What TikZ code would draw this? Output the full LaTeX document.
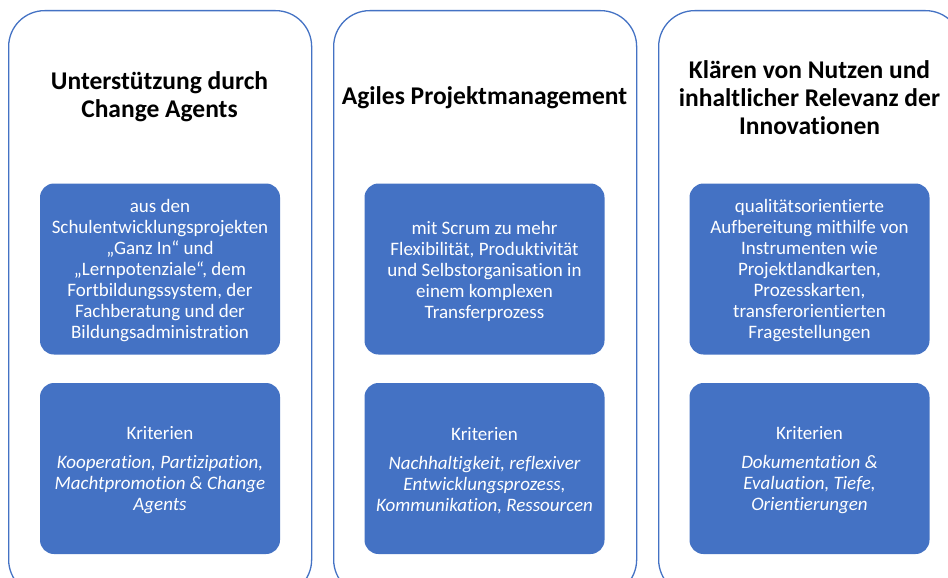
\documentclass[tikz,border=0pt]{standalone}
\usepackage{fontspec}
\setmainfont{Carlito}[Ligatures=NoCommon]
\definecolor{ablue}{HTML}{4472C4}
\begin{document}
\begin{tikzpicture}[x=1pt,y=-1pt,
  panel/.style={draw=ablue, line width=1.3pt, rounded corners=36pt, minimum width=303pt, minimum height=585pt, anchor=north west, inner sep=0pt},
  box/.style={fill=ablue, rounded corners=14pt, minimum width=240pt, minimum height=171pt, inner sep=0pt},
  boxtext/.style={align=center, text=white, inner sep=0pt, font=\fontsize{19}{21}\selectfont},
  ttl/.style={font=\fontsize{25.5}{28}\selectfont\bfseries, align=center, text=black}]
\useasboundingbox (0,0) rectangle (948,578);
\clip (0,0) rectangle (948,578);
\fill[white] (0,0) rectangle (948,578);
\node[panel] (p1) at (8,10) {};
\node[panel] (p2) at (333,10) {};
\node[panel] (p3) at (658,10) {};
\node[ttl] (t1) at (159.5,97) {Unterstützung durch\\Change Agents};
\node[ttl] (t2) at (484.5,97.5) {Agiles Projektmanagement};
\node[ttl] (t3) at (809.5,97.5) {Klären von Nutzen und\\inhaltlicher Relevanz der\\Innovationen};
\node[box] (a1) at (160,269) {};
\node[box] (a2) at (484.5,269) {};
\node[box] (a3) at (809.5,269) {};
\node[box] (k1) at (160,468.5) {};
\node[box] (k2) at (484.5,468.5) {};
\node[box] (k3) at (809.5,468.5) {};
\node[boxtext] (a1t) at ([yshift=-2pt]a1.center) {aus den\\Schulentwicklungsprojekten\\„Ganz In“ und\\„Lernpotenziale“, dem\\Fortbildungssystem, der\\Fachberatung und der\\Bildungsadministration};
\node[boxtext] (a2t) at ([yshift=-2pt]a2.center) {mit Scrum zu mehr\\Flexibilität, Produktivität\\und Selbstorganisation in\\einem komplexen\\Transferprozess};
\node[boxtext] (a3t) at ([yshift=-2pt]a3.center) {qualitätsorientierte\\Aufbereitung mithilfe von\\Instrumenten wie\\Projektlandkarten,\\Prozesskarten,\\transferorientierten\\Fragestellungen};
\node[boxtext] (k1t) at ([yshift=-2pt]k1.center) {Kriterien\\[8pt]\itshape Kooperation, Partizipation,\\\itshape Machtpromotion \& Change\\\itshape Agents};
\node[boxtext] (k2t) at ([yshift=-2pt]k2.center) {Kriterien\\[8pt]\itshape Nachhaltigkeit, reflexiver\\\itshape Entwicklungsprozess,\\\itshape Kommunikation, Ressourcen};
\node[boxtext] (k3t) at ([yshift=-2pt]k3.center) {Kriterien\\[8pt]\itshape Dokumentation \&\\\itshape Evaluation, Tiefe,\\\itshape Orientierungen};
\end{tikzpicture}
\end{document}
